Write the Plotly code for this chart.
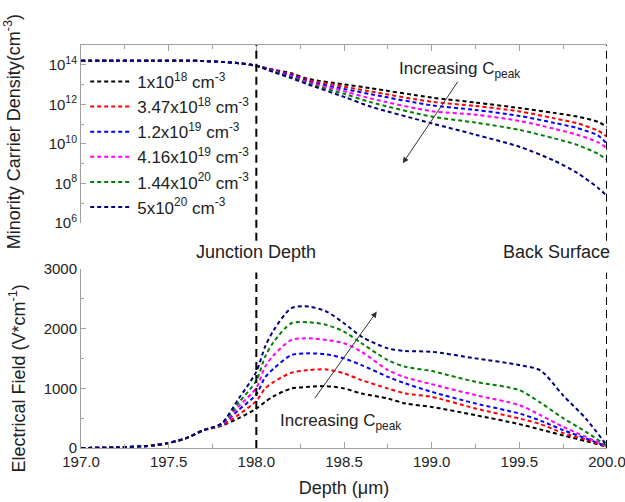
import plotly.graph_objects as go
from plotly.subplots import make_subplots

# ---------------- data ----------------
labels = ["1x10<sup>18</sup> cm<sup>-3</sup>", "3.47x10<sup>18</sup> cm<sup>-3</sup>",
          "1.2x10<sup>19</sup> cm<sup>-3</sup>", "4.16x10<sup>19</sup> cm<sup>-3</sup>",
          "1.44x10<sup>20</sup> cm<sup>-3</sup>", "5x10<sup>20</sup> cm<sup>-3</sup>"]
colors = ["#000000", "#ff0000", "#0000ff", "#ff00ff", "#008000", "#000080"]

depth_top = [197.0, 197.2, 197.4, 197.6, 197.7, 197.8, 197.9, 198.0, 198.1, 198.2, 198.3,
             198.5, 198.65, 199.0, 199.25, 199.5, 199.7, 199.83, 199.95, 200.0]
head = [1.6e14, 1.6e14, 1.6e14, 1.6e14, 1.55e14, 1.4e14, 1.2e14, 8.9e13]
dens_black = head + [5.6e13, 3.7e13, 1.9e13, 1.02e13, 6.6e12, 2.2e12, 1.23e12, 6.5e11, 3.7e11, 2.4e11, 1.3e11, 7.2e10]
dens_red = head + [5.3e13, 3.3e13, 1.66e13, 7.8e12, 4.5e12, 1.35e12, 8.3e11, 4.4e11, 1.95e11, 1.1e11, 4.6e10, 2.3e10]
dens_blue = head + [5.0e13, 2.95e13, 1.41e13, 6.0e12, 3.3e12, 8.9e11, 5.2e11, 2.6e11, 1.15e11, 6.3e10, 2.6e10, 9.8e9]
dens_magenta = head + [4.7e13, 2.6e13, 1.26e13, 4.6e12, 2.0e12, 4.5e11, 3.0e11, 1.45e11, 5.8e10, 2.9e10, 1.2e10, 6.0e9]
dens_green = head + [4.4e13, 2.35e13, 1.1e13, 3.4e12, 1.3e12, 2.4e11, 1.2e11, 5.1e10, 1.9e10, 8.9e9, 3.1e9, 1.55e9]
dens_navy = head + [4.2e13, 2.1e13, 9.8e12, 2.4e12, 7.8e11, 1.1e11, 2.9e10, 7.2e9, 1.4e9, 3.4e8, 5.9e7, 2.3e7]
densities = [dens_black, dens_red, dens_blue, dens_magenta, dens_green, dens_navy]

depth_bot = [197.0, 197.2, 197.4, 197.5, 197.6, 197.7, 197.8, 197.9, 198.0, 198.05, 198.1, 198.2,
             198.3, 198.4, 198.5, 198.6, 198.75, 198.85, 199.0, 199.25, 199.5, 199.62, 199.75,
             199.88, 200.0]
field_black = [0, 10, 40, 85, 165, 300, 370, 500, 660, 773, 869, 998, 1025, 1037, 998, 914, 830,
               746, 689, 550, 400, 310, 210, 115, 20]
field_red = [0, 10, 40, 85, 165, 300, 375, 560, 790, 998, 1109, 1261, 1306, 1317, 1250, 1138, 998,
             914, 857, 662, 494, 400, 250, 140, 20]
field_blue = [0, 10, 40, 85, 165, 300, 385, 640, 900, 1183, 1334, 1558, 1586, 1570, 1503, 1390,
              1193, 1082, 941, 746, 578, 460, 300, 160, 25]
field_magenta = [0, 10, 40, 85, 165, 300, 390, 700, 1010, 1361, 1558, 1810, 1838, 1810, 1755, 1613,
                 1306, 1183, 1070, 886, 718, 550, 355, 185, 30]
field_green = [0, 10, 40, 85, 165, 300, 400, 760, 1130, 1530, 1782, 2091, 2107, 2062, 1950, 1755,
               1474, 1361, 1289, 1109, 970, 760, 500, 270, 35]
field_navy = [0, 10, 40, 85, 165, 300, 410, 830, 1280, 1698, 1978, 2343, 2370, 2286, 2091, 1866,
              1670, 1625, 1613, 1502, 1390, 1300, 880, 490, 40]
fields = [field_black, field_red, field_blue, field_magenta, field_green, field_navy]

ref_depths = [198.0, 200.0]
ref_texts = ["Junction Depth", "Back Surface"]
xticks = [197.0, 197.5, 198.0, 198.5, 199.0, 199.5, 200.0]
xticktext = ["197.0", "197.5", "198.0", "198.5", "199.0", "199.5", "200.0"]
ytop_vals = [1e6, 1e8, 1e10, 1e12, 1e14]
ytop_text = ["10<sup>6</sup>", "10<sup>8</sup>", "10<sup>10</sup>", "10<sup>12</sup>", "10<sup>14</sup>"]
ybot_vals = [0, 1000, 2000, 3000]

# ---------------- figure ----------------
FONT = "Liberation Sans, Arial, sans-serif"
TXT = "#222222"
fig = make_subplots(rows=2, cols=1)

for lab, col, d in zip(labels, colors, densities):
    fig.add_trace(go.Scatter(x=depth_top, y=d, mode="lines", name=lab,
                             line=dict(color=col, width=2, dash="4px,3px", shape="spline", smoothing=0.8)),
                  row=1, col=1)
for lab, col, f in zip(labels, colors, fields):
    fig.add_trace(go.Scatter(x=depth_bot, y=f, mode="lines", name=lab, showlegend=False,
                             line=dict(color=col, width=2, dash="4px,3px", shape="spline", smoothing=0.8)),
                  row=2, col=1)

axcol = "#a0a0a0"
fig.update_layout(
    width=625, height=502, autosize=False,
    margin=dict(l=81, r=18, t=45, b=54, autoexpand=False),
    plot_bgcolor="white", paper_bgcolor="white",
    font=dict(family=FONT, color=TXT, size=15),
    showlegend=True,
    legend=dict(x=0.008, y=0.953, xanchor="left", yanchor="top", bgcolor="rgba(0,0,0,0)",
                font=dict(size=17, color=TXT), tracegroupgap=0, itemwidth=42),
    xaxis=dict(domain=[0, 1], range=[197, 200], side="top", showline=True, linecolor=axcol,
               showticklabels=False, ticks="inside", ticklen=6, tickcolor=axcol, tickvals=xticks,
               minor=dict(ticks="inside", ticklen=4, dtick=0.25, tickcolor=axcol),
               showgrid=False, zeroline=False, anchor="y", automargin=False),
    yaxis=dict(domain=[0.5583, 1], type="log", range=[6, 15], showline=True, linecolor=axcol,
               ticks="inside", ticklen=5, tickcolor=axcol, tickvals=ytop_vals, ticktext=ytop_text,
               minor=dict(ticks="inside", ticklen=3, tickcolor=axcol, tickvals=[1e7, 1e9, 1e11, 1e13, 1e15]),
               showgrid=False, zeroline=False, tickfont=dict(size=15), automargin=False),
    xaxis2=dict(domain=[0, 1], range=[197, 200], showline=True, linecolor=axcol,
                ticks="inside", ticklen=6, tickcolor=axcol, tickvals=xticks, ticktext=xticktext,
                minor=dict(ticks="inside", ticklen=4, dtick=0.25, tickcolor=axcol),
                showgrid=False, zeroline=False, tickfont=dict(size=15), anchor="y2", automargin=False,
                ticklabeloverflow="allow",
                title=dict(text="Depth (\u03bcm)", font=dict(size=18), standoff=12)),
    yaxis2=dict(domain=[0, 0.4442], range=[0, 3000], showline=True, linecolor=axcol,
                ticks="inside", ticklen=5, tickcolor=axcol, tickvals=ybot_vals,
                minor=dict(ticks="inside", ticklen=3, dtick=500, tickcolor=axcol),
                showgrid=False, zeroline=False, tickfont=dict(size=15), automargin=False),
)

# reference vertical dashed lines
for xr in ref_depths:
    fig.add_shape(type="line", xref="x", yref="y domain", x0=xr, x1=xr, y0=-0.1, y1=1,
                  line=dict(color="black", width=2, dash="8px,5px"))
    fig.add_shape(type="line", xref="x2", yref="y2 domain", x0=xr, x1=xr, y0=0, y1=0.98,
                  line=dict(color="black", width=2, dash="8px,5px"))

fig.add_annotation(text=ref_texts[0], xref="x2", yref="y2 domain", x=ref_depths[0], y=1.095,
                   xanchor="center", yanchor="middle", showarrow=False,
                   font=dict(size=18, color=TXT))
fig.add_annotation(text=ref_texts[1], xref="paper", yref="y2 domain", x=1.01, y=1.095,
                   xanchor="right", yanchor="middle", showarrow=False,
                   font=dict(size=18, color=TXT))

# increasing C_peak arrows
fig.add_annotation(text="Increasing C<sub>peak</sub>", xref="x", yref="y", x=199.16, y=13.75,
                   showarrow=False, font=dict(size=17, color=TXT))
fig.add_annotation(text="", xref="x", yref="y", x=198.835, y=9.02, ax=56, ay=-83,
                   showarrow=True, arrowhead=2, arrowsize=1.2, arrowwidth=1, arrowcolor="#333333")
fig.add_annotation(text="Increasing C<sub>peak</sub>", xref="x2", yref="y2", x=198.48, y=440,
                   showarrow=False, font=dict(size=17, color=TXT))
fig.add_annotation(text="", xref="x2", yref="y2", x=198.687, y=2286, ax=-63, ay=88,
                   showarrow=True, arrowhead=2, arrowsize=1.2, arrowwidth=1, arrowcolor="#333333")

# y-axis titles
fig.add_annotation(text="Minority Carrier Density(cm<sup>-3</sup>)", xref="paper", yref="paper",
                   x=-0.13, y=0.785, textangle=-90, showarrow=False, xanchor="center", yanchor="middle",
                   font=dict(size=18, color=TXT))
fig.add_annotation(text="Electrical Field (V*cm<sup>-1</sup>)", xref="paper", yref="paper",
                   x=-0.12, y=0.172, textangle=-90, showarrow=False, xanchor="center", yanchor="middle",
                   font=dict(size=18, color=TXT))

fig.write_html("out.html")
